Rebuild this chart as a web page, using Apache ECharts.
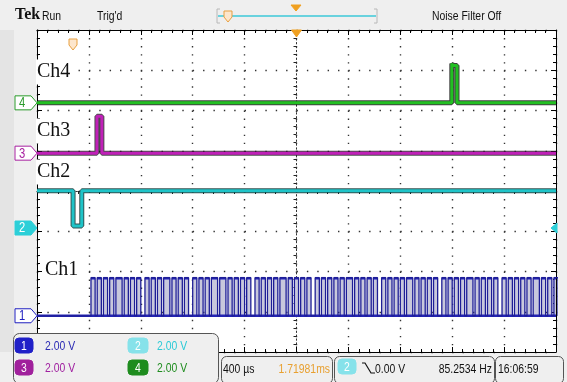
<!DOCTYPE html>
<html><head><meta charset="utf-8">
<script src="https://cdn.jsdelivr.net/npm/echarts@6/dist/echarts.min.js"></script>
<style>html,body{margin:0;padding:0;background:#efefef}#c{width:567px;height:382px}</style>
</head><body><div id="c"></div><script>
// ---- data (time in µs, 400 µs/div; voltage in V, 2 V/div) ----
const timeMin = -2000, timeMax = 2000, timeDiv = 400;
const voltsPerDiv = 2.0;
const channelLabels = ['Ch1', 'Ch2', 'Ch3', 'Ch4'];
const channelOffsetDiv = [-3.10, -0.92, 0.94, 2.19];
const scaleTexts = ['2.00 V', '2.00 V', '2.00 V', '2.00 V'];
const ch4Time = [-2000, 1197, 1197, 1205, 1205, 1237, 1237, 2000];
const ch4Volt = [0, 0, 1.95, 1.95, 1.85, 1.85, 0, 0];
const ch3Time = [-2000, -1538, -1538, -1500, -1500, 2000];
const ch3Volt = [0, 0, 1.84, 1.84, 0, 0];
const ch2Time = [-2000, -1722, -1722, -1655, -1655, 2000];
const ch2Volt = [1.85, 1.85, 0.1, 0.1, 1.85, 1.85];
const ch1Start = -1584;
const ch1BitUs = 16;
const ch1High = 1.89, ch1Low = 0;
const ch1Bits =
  "110110110110111011011011001101" +
  "101101110110110110011011011011" +
  "101110110110110110011011011011" +
  "011101101101101100110110110110" +
  "110111011011011011001101101101" +
  "101110110110110110011011011011" +
  "011101101101101100110110110110" +
  "1101110110110110110011";
const timebaseText = '400 µs', triggerPosText = '1.71981ms', trigLevelText = '0.00 V',
      freqText = '85.2534 Hz', clockText = '16:06:59';

// ---- build ----
function toDiv(ch, v) { return channelOffsetDiv[ch] + v / voltsPerDiv; }
function pairs(ch, ts, vs) { return ts.map((t, i) => [t, toDiv(ch, vs[i])]); }
function ch1Data() {
  const d = [[timeMin, toDiv(0, ch1Low)], [ch1Start, toDiv(0, ch1Low)]];
  let prev = ch1Low;
  for (let i = 0; i < ch1Bits.length; i++) {
    const t = ch1Start + i * ch1BitUs;
    const v = ch1Bits[i] === '1' ? ch1High : ch1Low;
    if (v !== prev) { d.push([t, toDiv(0, prev)]); d.push([t, toDiv(0, v)]); prev = v; }
  }
  d.push([Math.min(timeMax, ch1Start + ch1Bits.length * ch1BitUs), toDiv(0, prev)]);
  return d;
}
function ch1Pulses() {
  const out = []; let s = null;
  for (let i = 0; i <= ch1Bits.length; i++) {
    const b = ch1Bits[i] === '1';
    const t = Math.min(timeMax, ch1Start + i * ch1BitUs);
    if (b && s === null) s = t;
    if (!b && s !== null) { out.push([s, t]); s = null; }
  }
  return out;
}
const COL = { c1: '#1e1e96', c2: '#1fc4c8', c3: '#c020b8', c4: '#22c022' };
const NARROW = "'Liberation Sans','DejaVu Sans',sans-serif";
const NSCALE = 0.8;

const chart = echarts.init(document.getElementById('c'), null, { renderer: 'canvas' });
const gridRect = { left: 37, right: 11, top: 30, bottom: 30 };
function frameX(pos, split) {
  return { type: 'value', min: timeMin, max: timeMax, interval: timeDiv, position: pos, gridIndex: 0,
    axisLine: { onZero: false, lineStyle: { color: '#000', width: 1 } },
    axisTick: { inside: true, length: 5, lineStyle: { color: '#000' } },
    minorTick: { show: true, splitNumber: 5, length: 3, lineStyle: { color: '#000' } },
    axisLabel: { show: false },
    splitLine: { show: split, lineStyle: { color: '#333', width: 1.4, type: [1.4, 6.65] } } };
}
function frameY(pos, split) {
  return { type: 'value', min: -4, max: 4, interval: 1, position: pos, gridIndex: 0,
    axisLine: { onZero: false, lineStyle: { color: '#000', width: 1 } },
    axisTick: { inside: true, length: 5, lineStyle: { color: '#000' } },
    minorTick: { show: true, splitNumber: 5, length: 3, lineStyle: { color: '#000' } },
    axisLabel: { show: false },
    splitLine: { show: split, lineStyle: { color: '#333', width: 1.4, type: [1.4, 8.98] } } };
}
function centerX(g) {
  return { type: 'value', min: timeMin, max: timeMax, interval: timeDiv, gridIndex: g,
    axisLine: { onZero: true, lineStyle: { color: '#333', width: 1, type: [1.4, 2.5] } },
    axisTick: { show: false },
    minorTick: { show: true, splitNumber: 5, length: 3, lineStyle: { color: '#222' } },
    axisLabel: { show: false }, splitLine: { show: false } };
}
function centerY(g) {
  return { type: 'value', min: -4, max: 4, interval: 1, gridIndex: g,
    axisLine: { onZero: true, lineStyle: { color: '#333', width: 1, type: [1.4, 2.5] } },
    axisTick: { show: false },
    minorTick: { show: true, splitNumber: 5, length: 3, lineStyle: { color: '#222' } },
    axisLabel: { show: false }, splitLine: { show: false } };
}
const baseLine = (name, data, color, w, z) => ({ name, type: 'line', data, xAxisIndex: 0, yAxisIndex: 0,
  showSymbol: false, symbol: 'none', animation: false, z, sampling: 'none', lineStyle: { color, width: w } });

const ch1Fill = {
  name: 'ch1fill', type: 'custom', xAxisIndex: 0, yAxisIndex: 0, z: 2, clip: true, animation: false,
  data: ch1Pulses(),
  renderItem: function (params, api) {
    const p1 = api.coord([api.value(0), toDiv(0, ch1High)]);
    const p2 = api.coord([api.value(1), toDiv(0, ch1Low)]);
    return { type: 'group', children: [
      { type: 'rect', shape: { x: p1[0], y: p1[1], width: p2[0] - p1[0], height: p2[1] - p1[1] },
        style: { fill: '#c8c8dc', stroke: null } },
      { type: 'line', shape: { x1: p1[0], y1: p1[1] + 0.5, x2: p2[0], y2: p1[1] + 0.5 },
        style: { stroke: '#2626c4', lineWidth: 2.6 }, z2: 5 }
    ] };
  }
};
const ch1Base = baseLine('ch1base', [[timeMin, toDiv(0, ch1Low)], [timeMax, toDiv(0, ch1Low)]], '#2424b4', 2.6, 2);

chart.setOption({
  backgroundColor: '#efefef',
  animation: false,
  grid: [
    Object.assign({ show: true, backgroundColor: '#ffffff', borderWidth: 0 }, gridRect),
    Object.assign({}, gridRect),
  ],
  xAxis: [frameX('bottom', true), frameX('top', false), centerX(1)],
  yAxis: [frameY('left', true), frameY('right', false), centerY(1)],
  series: [
    baseLine('ch4o', pairs(3, ch4Time, ch4Volt), 'rgba(0,0,0,0.75)', 5, 2),
    baseLine('ch4', pairs(3, ch4Time, ch4Volt), COL.c4, 3, 3),
    baseLine('ch3o', pairs(2, ch3Time, ch3Volt), 'rgba(0,0,0,0.7)', 5, 2),
    baseLine('ch3', pairs(2, ch3Time, ch3Volt), COL.c3, 3, 3),
    baseLine('ch2o', pairs(1, ch2Time, ch2Volt), 'rgba(0,40,40,0.8)', 5, 2),
    baseLine('ch2', pairs(1, ch2Time, ch2Volt), COL.c2, 3, 3),
    ch1Fill,
    ch1Base,
    baseLine('ch1', ch1Data(), COL.c1, 1.3, 3),
  ]
});

// ---- decorations ----
const yPix = ch => chart.convertToPixel({ yAxisIndex: 0 }, channelOffsetDiv[ch]);
const xPix = t => chart.convertToPixel({ xAxisIndex: 0 }, t);
const g = [];
function txt(text, x, y, font, fill, align, extra) {
  g.push({ type: 'text', z: 100, style: Object.assign({ text, x, y, font, fill, align: align || 'left', verticalAlign: 'middle' }, extra || {}) });
}
function ntxt(text, x, y, size, fill, align) {
  g.push({ type: 'text', z: 100, x, y, scaleX: NSCALE,
    style: { text, x: 0, y: 0, font: size + 'px ' + NARROW, fill, align: align || 'left', verticalAlign: 'middle' } });
}
function rrect(x, y, w, h, r, fill, stroke) {
  g.push({ type: 'rect', z: 90, shape: { x, y, width: w, height: h, r }, style: { fill, stroke, lineWidth: 1 } });
}
function poly(points, fill, stroke, lw, closed) {
  g.push({ type: closed === false ? 'polyline' : 'polygon', z: 95, shape: { points }, style: { fill: fill || 'none', stroke: stroke || 'none', lineWidth: lw || 1 } });
}
function badge(x, y, w, h, fill, label) {
  rrect(x, y, w, h, 4, fill, fill);
  ntxt(label, x + w / 2, y + h / 2 + 0.5, 13, '#fff', 'center');
}
// left strip
g.push({ type: 'rect', z: 1, shape: { x: 0, y: 30, width: 14, height: 322 }, style: { fill: '#e4e4e4' } });
// channel markers
const markerStyle = [
  { stroke: '#2020c0', fill: '#fff', text: '#2020c0', label: '1' },
  { stroke: '#2ccfd8', fill: '#2ccfd8', text: '#fff', label: '2' },
  { stroke: '#a820a0', fill: '#fff', text: '#a820a0', label: '3' },
  { stroke: '#2a9a2a', fill: '#fff', text: '#2a9a2a', label: '4' },
];
markerStyle.forEach((m, i) => {
  const y = yPix(i);
  poly([[15, y - 7], [31, y - 7], [37, y], [31, y + 7], [15, y + 7]], m.fill, m.stroke, 1);
  ntxt(m.label, 22, y + 0.5, 14, m.text, 'center');
});
// channel name labels
const labelPos = [[44, 270], [36, 172], [36, 131], [36, 72]];
channelLabels.forEach((s, i) => {
  txt(s, labelPos[i][0], labelPos[i][1], '20px "Liberation Serif","DejaVu Serif",serif', '#111', 'left',
    { backgroundColor: '#fff', padding: [3, 6, 2, 1] });
});
// trigger markers
const xc = xPix(0);
poly([[xc - 5, 30], [xc + 5, 30], [xc, 37]], '#f0a020', '#f0a020');
poly([[69, 39], [77, 39], [77, 45], [73, 50], [69, 45]], '#fde6cc', '#e8a040');
const yTrig = yPix(1);
poly([[557, yTrig - 5], [557, yTrig + 5], [551, yTrig]], '#2ccfd8', '#2ccfd8');
// top bar
txt('Tek', 15, 15, 'bold 16px "Liberation Serif","DejaVu Serif",serif', '#111');
ntxt('Run', 42, 16, 13, '#111');
ntxt("Trig'd", 97, 16, 13, '#111');
poly([[220, 9], [217, 9], [217, 23], [220, 23]], null, '#b8b8b8', 1, false);
poly([[374, 9], [377, 9], [377, 23], [374, 23]], null, '#b8b8b8', 1, false);
g.push({ type: 'line', z: 94, shape: { x1: 218, y1: 16, x2: 376, y2: 16 }, style: { stroke: '#3cc8d8', lineWidth: 1.5 } });
poly([[224, 11], [232, 11], [232, 17], [228, 22], [224, 17]], '#fde6cc', '#e8a040');
poly([[291, 5], [301, 5], [296, 11]], '#f0a020', '#f0a020');
ntxt('Noise Filter Off', 432, 16, 13, '#111');
// bottom boxes
rrect(13.5, 333.5, 205, 50, 6, '#efefef', '#555');
badge(15, 338, 18, 15, '#2020c8', '1');
ntxt(scaleTexts[0], 45, 346, 13, '#2a2ab4');
badge(128, 338, 20, 15, '#86e2ea', '2');
ntxt(scaleTexts[1], 157, 346, 13, '#2ccad6');
badge(15, 360, 18, 15, '#a0209c', '3');
ntxt(scaleTexts[2], 45, 368, 13, '#a020a0');
badge(128, 360, 20, 15, '#1e8c1e', '4');
ntxt(scaleTexts[3], 157, 368, 13, '#1e8c1e');
rrect(221.5, 356.5, 111, 27, 5, '#efefef', '#555');
ntxt(timebaseText, 223, 369, 13, '#111');
ntxt(triggerPosText, 330, 369, 13, '#e8a030', 'right');
rrect(334.5, 356.5, 160, 27, 5, '#efefef', '#555');
badge(338, 359, 18, 15, '#86e2ea', '2');
poly([[362, 363], [365, 363], [371, 373], [375, 373]], null, '#111', 1.2, false);
ntxt(trigLevelText, 375, 369, 13, '#111');
ntxt(freqText, 492, 369, 13, '#111', 'right');
rrect(495.5, 356.5, 68, 27, 5, '#efefef', '#555');
ntxt(clockText, 498, 369, 13, '#111');
chart.setOption({ graphic: g });
</script></body></html>
